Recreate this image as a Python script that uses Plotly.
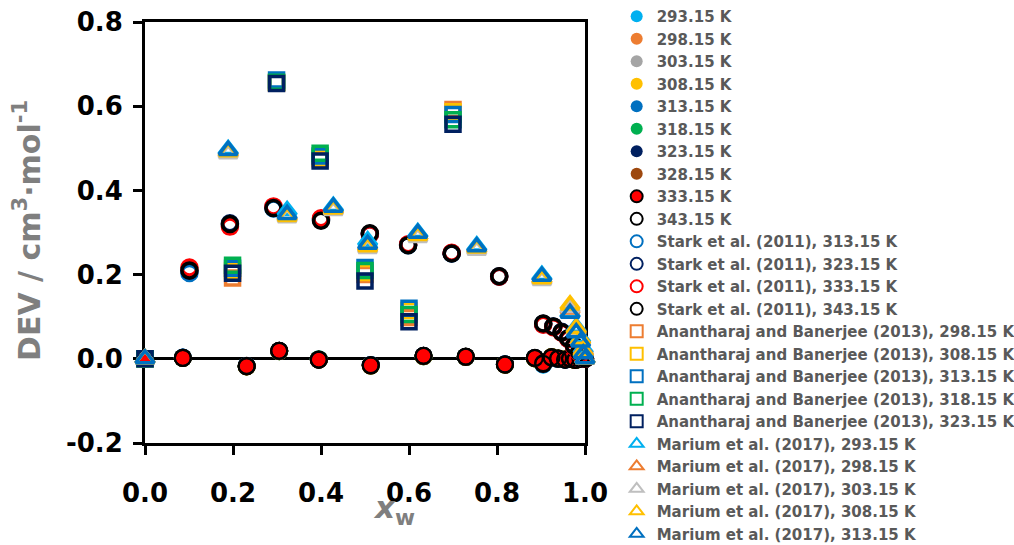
import plotly.graph_objects as go

# ---------------- data ----------------
# This work: deviations at each temperature (filled circles)
x_tw = [0.000, 0.086, 0.231, 0.305, 0.395, 0.513, 0.633, 0.729, 0.818,
        0.886, 0.905, 0.924, 0.939, 0.955, 0.966, 0.978, 0.990, 1.000]
dev_293 = [0.000, 0.003, -0.017, 0.018, -0.001, -0.015, 0.006, 0.004, -0.013,
           0.001, -0.014, 0.003, 0.000, -0.002, 0.000, -0.002, 0.000, 0.000]
dev_298 = [0.000, 0.002, -0.018, 0.019, -0.002, -0.016, 0.007, 0.005, -0.014,
           0.002, -0.012, 0.004, 0.001, -0.001, 0.001, -0.003, 0.001, 0.000]
dev_303 = [0.000, 0.003, -0.017, 0.019, -0.001, -0.015, 0.007, 0.004, -0.013,
           0.002, -0.011, 0.003, 0.000, -0.002, 0.000, -0.002, 0.000, 0.000]
dev_308 = [0.000, 0.002, -0.018, 0.018, -0.002, -0.016, 0.006, 0.005, -0.014,
           0.001, -0.012, 0.004, 0.001, -0.001, 0.001, -0.003, 0.001, 0.000]
dev_313 = [0.000, 0.003, -0.017, 0.019, -0.002, -0.015, 0.007, 0.005, -0.013,
           0.002, -0.013, 0.003, 0.000, -0.002, 0.000, -0.002, 0.000, 0.000]
dev_318 = [0.000, 0.002, -0.018, 0.018, -0.001, -0.016, 0.006, 0.004, -0.014,
           0.001, -0.011, 0.004, 0.001, -0.001, 0.001, -0.003, 0.001, 0.000]
dev_323 = [0.000, 0.003, -0.017, 0.019, -0.002, -0.015, 0.007, 0.005, -0.013,
           0.002, -0.012, 0.003, 0.000, -0.002, 0.000, -0.002, 0.000, 0.000]
dev_328 = [0.000, 0.002, -0.018, 0.018, -0.002, -0.016, 0.006, 0.004, -0.014,
           0.001, -0.011, 0.004, 0.001, -0.001, 0.001, -0.003, 0.001, 0.000]
dev_333 = [0.000, 0.002, -0.018, 0.019, -0.002, -0.016, 0.007, 0.005, -0.014,
           0.002, -0.010, 0.004, 0.000, -0.002, 0.001, -0.003, 0.000, 0.000]
dev_343 = [0.000, 0.002, -0.017, 0.019, -0.002, -0.015, 0.007, 0.005, -0.013,
           0.002, -0.012, 0.003, 0.001, -0.002, 0.000, -0.002, 0.000, 0.000]

# Stark et al. (2011), hollow circles
x_stark = [0.101, 0.193, 0.292, 0.400, 0.511, 0.598, 0.697, 0.805,
           0.905, 0.928, 0.947, 0.962, 0.975, 0.987, 1.000]
stark_313 = [0.204, 0.318, 0.357, 0.330, 0.296, 0.270, 0.250, 0.195,
             0.082, 0.076, 0.063, 0.048, 0.030, 0.015, 0.000]
stark_323 = [0.209, 0.322, 0.360, 0.332, 0.297, 0.271, 0.251, 0.196,
             0.083, 0.077, 0.064, 0.048, 0.030, 0.015, 0.000]
stark_333 = [0.217, 0.314, 0.362, 0.334, 0.296, 0.272, 0.252, 0.195,
             0.081, 0.075, 0.062, 0.047, 0.029, 0.014, 0.000]
stark_343 = [0.210, 0.320, 0.358, 0.328, 0.298, 0.270, 0.250, 0.196,
             0.084, 0.077, 0.063, 0.049, 0.031, 0.016, 0.000]

# Anantharaj and Banerjee (2013), hollow squares
x_anan = [0.000, 0.199, 0.299, 0.398, 0.500, 0.600, 0.700]
anan_298 = [0.000, 0.192, 0.655, 0.475, 0.200, 0.098, 0.592]
anan_308 = [0.000, 0.210, 0.656, 0.478, 0.205, 0.115, 0.587]
anan_313 = [0.000, 0.215, 0.662, 0.482, 0.217, 0.120, 0.580]
anan_318 = [0.000, 0.222, 0.657, 0.488, 0.210, 0.105, 0.568]
anan_323 = [0.000, 0.203, 0.654, 0.470, 0.185, 0.088, 0.557]

# Marium et al. (2017), hollow triangles
x_mar = [0.000, 0.189, 0.323, 0.428, 0.506, 0.620, 0.754, 0.902,
         0.966, 0.980, 0.990, 0.996, 1.000]
mar_293 = [0.000, 0.497, 0.352, 0.362, 0.280, 0.300, 0.268, 0.198,
           0.110, 0.075, 0.050, 0.025, 0.000]
mar_298 = [0.000, 0.490, 0.340, 0.355, 0.268, 0.293, 0.262, 0.190,
           0.118, 0.072, 0.046, 0.020, 0.000]
mar_303 = [0.000, 0.487, 0.335, 0.352, 0.262, 0.288, 0.258, 0.186,
           0.122, 0.068, 0.042, 0.015, 0.000]
mar_308 = [0.000, 0.492, 0.338, 0.356, 0.266, 0.293, 0.263, 0.190,
           0.128, 0.072, 0.046, 0.018, 0.000]
mar_313 = [0.000, 0.495, 0.343, 0.360, 0.272, 0.298, 0.266, 0.196,
           0.108, 0.062, 0.040, 0.012, 0.000]

y_ticks = [-0.2, 0.0, 0.2, 0.4, 0.6, 0.8]
y_ticklabels = ["-0.2", "0.0", "0.2", "0.4", "0.6", "0.8"]
x_ticks = [0.0, 0.2, 0.4, 0.6, 0.8, 1.0]
x_ticklabels = ["0.0", "0.2", "0.4", "0.6", "0.8", "1.0"]

# ---------------- styling ----------------
C_LBLUE = "#00B0F0"
C_ORANGE = "#ED7D31"
C_GRAY = "#A5A5A5"
C_LGRAY = "#BFBFBF"
C_GOLD = "#FFC000"
C_BLUE = "#0070C0"
C_GREEN = "#00B050"
C_NAVY = "#002060"
C_BROWN = "#9E480E"
C_RED = "#FF0000"
C_BLACK = "#000000"

FONT = "DejaVu Sans"

fig = go.Figure()


def add(x, y, name, symbol, size, fill, line_color, line_width):
    fig.add_trace(go.Scatter(
        x=x, y=y, name=name, mode="markers", cliponaxis=False,
        marker=dict(symbol=symbol, size=size, color=fill,
                    line=dict(color=line_color, width=line_width)),
    ))


# this work
tw = [(dev_293, "293.15 K", C_LBLUE), (dev_298, "298.15 K", C_ORANGE),
      (dev_303, "303.15 K", C_GRAY), (dev_308, "308.15 K", C_GOLD),
      (dev_313, "313.15 K", C_BLUE), (dev_318, "318.15 K", C_GREEN),
      (dev_323, "323.15 K", C_NAVY), (dev_328, "328.15 K", C_BROWN)]
for y, name, col in tw:
    add(x_tw, y, name, "circle", 18, col, col, 0)
add(x_tw, dev_333, "333.15 K", "circle", 16, C_RED, C_BLACK, 2)
add(x_tw, dev_343, "343.15 K", "circle-open", 16, C_BLACK, C_BLACK, 2.2)

# Stark et al.
for y, t, col in [(stark_313, "313.15", C_BLUE), (stark_323, "323.15", C_NAVY),
                  (stark_333, "333.15", C_RED), (stark_343, "343.15", C_BLACK)]:
    add(x_stark, y, f"Stark et al. (2011), {t} K", "circle-open", 15, col, col, 3.5)

# Anantharaj and Banerjee
for y, t, col in [(anan_298, "298.15", C_ORANGE), (anan_308, "308.15", C_GOLD),
                  (anan_313, "313.15", C_BLUE), (anan_318, "318.15", C_GREEN),
                  (anan_323, "323.15", C_NAVY)]:
    add(x_anan, y, f"Anantharaj and Banerjee (2013), {t} K", "square-open", 14, col, col, 3.5)

# Marium et al.
for y, t, col in [(mar_293, "293.15", C_LBLUE), (mar_298, "298.15", C_ORANGE),
                  (mar_303, "303.15", C_LGRAY), (mar_308, "308.15", C_GOLD),
                  (mar_313, "313.15", C_BLUE)]:
    add(x_mar, y, f"Marium et al. (2017), {t} K", "triangle-up-open", 16, col, col, 3.5)

axis_common = dict(
    showgrid=False, showline=True, linecolor="black", linewidth=3, mirror=True,
    ticks="outside", ticklen=9, tickwidth=3, tickcolor="black",
    tickfont=dict(family=FONT, size=26, color="black", weight="bold"),
    layer="below traces",
)

fig.update_layout(
    width=1014, height=545,
    margin=dict(l=145, r=429, t=22, b=102, autoexpand=False),
    paper_bgcolor="white", plot_bgcolor="white",
    xaxis=dict(range=[0, 1], tickvals=x_ticks, ticktext=x_ticklabels,
               zeroline=False, ticklabelstandoff=16, **axis_common),
    yaxis=dict(range=[-0.2, 0.8], tickvals=y_ticks, ticktext=y_ticklabels,
               zeroline=True, zerolinecolor="black", zerolinewidth=3,
               ticklabelstandoff=5, **axis_common),
    legend=dict(
        x=1.072, xanchor="left", y=1.052, yanchor="top",
        font=dict(family=FONT, size=15, color="#595959", weight="bold"),
        itemsizing="constant", tracegroupgap=0, bgcolor="rgba(0,0,0,0)",
        maxheight=545,
    ),
    showlegend=True,
    annotations=[
        dict(text="DEV / cm<sup>3</sup>·mol<sup>-1</sup>", textangle=-90,
             xref="paper", yref="paper", x=-0.266, y=0.506,
             xanchor="center", yanchor="middle", showarrow=False,
             font=dict(family=FONT, size=30, color="#7F7F7F", weight="bold")),
        dict(text="<i>x</i><sub>w</sub>",
             xref="paper", yref="paper", x=0.565, y=-0.159,
             xanchor="center", yanchor="middle", showarrow=False,
             font=dict(family=FONT, size=31, color="#7F7F7F", weight="bold")),
    ],
)

fig.write_html("out.html")
